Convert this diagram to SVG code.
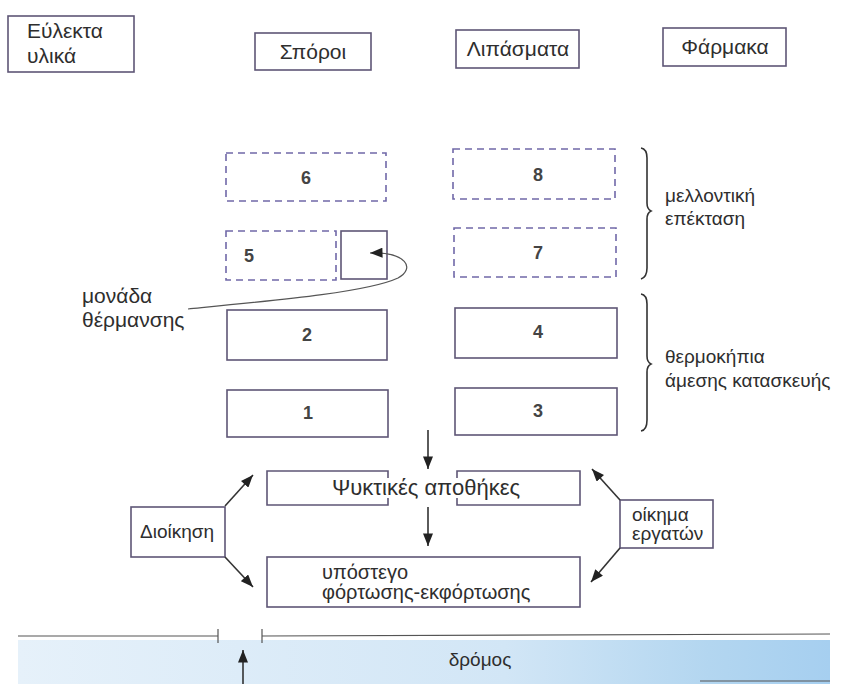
<svg xmlns="http://www.w3.org/2000/svg" width="846" height="684" viewBox="0 0 846 684">
<defs>
<style>
.box{fill:none;stroke:#5e5676;stroke-width:1.6}
.dash{fill:none;stroke:#7068a8;stroke-width:1.6;stroke-dasharray:7 5}
.t{font-family:"Liberation Sans",Arial,sans-serif;font-size:19px;fill:#2e2e2e}
.n{font-family:"Liberation Sans",Arial,sans-serif;font-size:19px;fill:#2e2e2e;text-anchor:middle}
.d{font-family:"Liberation Sans",Arial,sans-serif;font-size:18px;font-weight:bold;fill:#444;text-anchor:middle}
.h{font-size:21px}
.ln{fill:none;stroke:#333;stroke-width:1.6}
.thin{fill:none;stroke:#555;stroke-width:1.2}
</style>
<marker id="ah" viewBox="0 0 10 8" refX="10" refY="4" markerWidth="13" markerHeight="10" markerUnits="userSpaceOnUse" orient="auto">
<path d="M0,0 L10,4 L0,8 z" fill="#222"/>
</marker>
<linearGradient id="road" x1="0" y1="0" x2="1" y2="0">
<stop offset="0" stop-color="#e6f1fa"/>
<stop offset="0.6" stop-color="#d2e6f6"/>
<stop offset="0.85" stop-color="#b3d6f0"/>
<stop offset="1" stop-color="#a6cff0"/>
</linearGradient>
</defs>
<rect width="846" height="684" fill="#fff"/>

<g id="road-area">
<rect x="18" y="640" width="812" height="44" fill="url(#road)"/>
<path class="thin" d="M18,636 L218,636 M218,629 L218,643 M262,629 L262,643 M262,636 L830,634 M700,681 L830,681"/>
<text class="n" x="480" y="666">δρόμος</text>
</g>

<g id="n-eulekta"><rect class="box" x="8" y="16" width="126" height="56"/><text class="t h" x="27" y="38">Εύλεκτα</text><text class="t h" x="27" y="63">υλικά</text></g>
<g id="n-sporoi"><rect class="box" x="255" y="33" width="116" height="37"/><text class="n h" x="313" y="59">Σπόροι</text></g>
<g id="n-lipasmata"><rect class="box" x="456" y="30" width="123" height="38"/><text class="n h" x="518" y="56">Λιπάσματα</text></g>
<g id="n-farmaka"><rect class="box" x="663" y="28" width="123" height="38"/><text class="n h" x="725" y="54">Φάρμακα</text></g>

<g id="n-6"><rect class="dash" x="226" y="153" width="160" height="48"/><text class="d" x="306" y="184">6</text></g>
<g id="n-8"><rect class="dash" x="453" y="149" width="162" height="50"/><text class="d" x="538" y="181">8</text></g>
<g id="n-5"><rect class="dash" x="226" y="231" width="110" height="49"/><text class="d" x="249" y="262">5</text></g>
<g id="n-heater"><rect class="box" x="341" y="231" width="46" height="48"/></g>
<g id="n-7"><rect class="dash" x="454" y="228" width="162" height="49"/><text class="d" x="538" y="259">7</text></g>
<g id="n-2"><rect class="box" x="227" y="310" width="160" height="50"/><text class="d" x="307" y="341">2</text></g>
<g id="n-4"><rect class="box" x="455" y="308" width="162" height="50"/><text class="d" x="538" y="338">4</text></g>
<g id="n-1"><rect class="box" x="227" y="390" width="161" height="47"/><text class="d" x="308" y="419">1</text></g>
<g id="n-3"><rect class="box" x="455" y="388" width="162" height="47"/><text class="d" x="538" y="417">3</text></g>

<g id="lbl-heater"><text class="t h" x="82" y="303">μονάδα</text><text class="t h" x="82" y="327">θέρμανσης</text></g>
<g id="lbl-future"><path class="ln" d="M641,148 Q647,149 647,158 L647,203 Q647,209 651,211 Q647,213 647,219 L647,268 Q647,277 641,279"/><text class="t" x="665" y="202">μελλοντική</text><text class="t" x="665" y="225">επέκταση</text></g>
<g id="lbl-green"><path class="ln" d="M641,294 Q647,295 647,304 L647,356 Q647,362 651,364 Q647,366 647,372 L647,420 Q647,430 641,431"/><text class="t" x="665" y="363">θερμοκήπια</text><text class="t" x="665" y="387">άμεσης κατασκευής</text></g>

<g id="n-cold"><path class="box" d="M388,478 L388,471 L267,471 L267,505 L388,505 L388,498 M457,478 L457,471 L580,471 L580,505 L457,505 L457,498"/><text class="n" x="426" y="495" style="font-size:22px">Ψυκτικές αποθήκες</text></g>
<g id="n-shed"><rect class="box" x="267" y="557" width="313" height="50"/><text class="t" x="322" y="579" style="font-size:20px">υπόστεγο</text><text class="t" x="322" y="599" style="font-size:20px">φόρτωσης-εκφόρτωσης</text></g>
<g id="n-admin"><rect class="box" x="131" y="507" width="94" height="50"/><text class="t" x="140" y="538">Διοίκηση</text></g>
<g id="n-workers"><rect class="box" x="620" y="500" width="93" height="48"/><text class="t" x="632" y="521">οίκημα</text><text class="t" x="632" y="540">εργατών</text></g>

<g id="connectors">
<path class="thin" d="M188,309 C280,300 368,292 398,278 C416,268 406,252 370,253" marker-end="url(#ah)"/>
<line class="ln" x1="428" y1="430" x2="428" y2="469" marker-end="url(#ah)"/>
<line class="ln" x1="428" y1="507" x2="428" y2="546" marker-end="url(#ah)"/>
<line class="ln" x1="225" y1="506" x2="253" y2="475" marker-end="url(#ah)"/>
<line class="ln" x1="225" y1="557" x2="253" y2="587" marker-end="url(#ah)"/>
<line class="ln" x1="620" y1="500" x2="592" y2="469" marker-end="url(#ah)"/>
<line class="ln" x1="620" y1="548" x2="591" y2="582" marker-end="url(#ah)"/>
<line class="ln" x1="243" y1="684" x2="243" y2="650" marker-end="url(#ah)"/>
</g>
</svg>
